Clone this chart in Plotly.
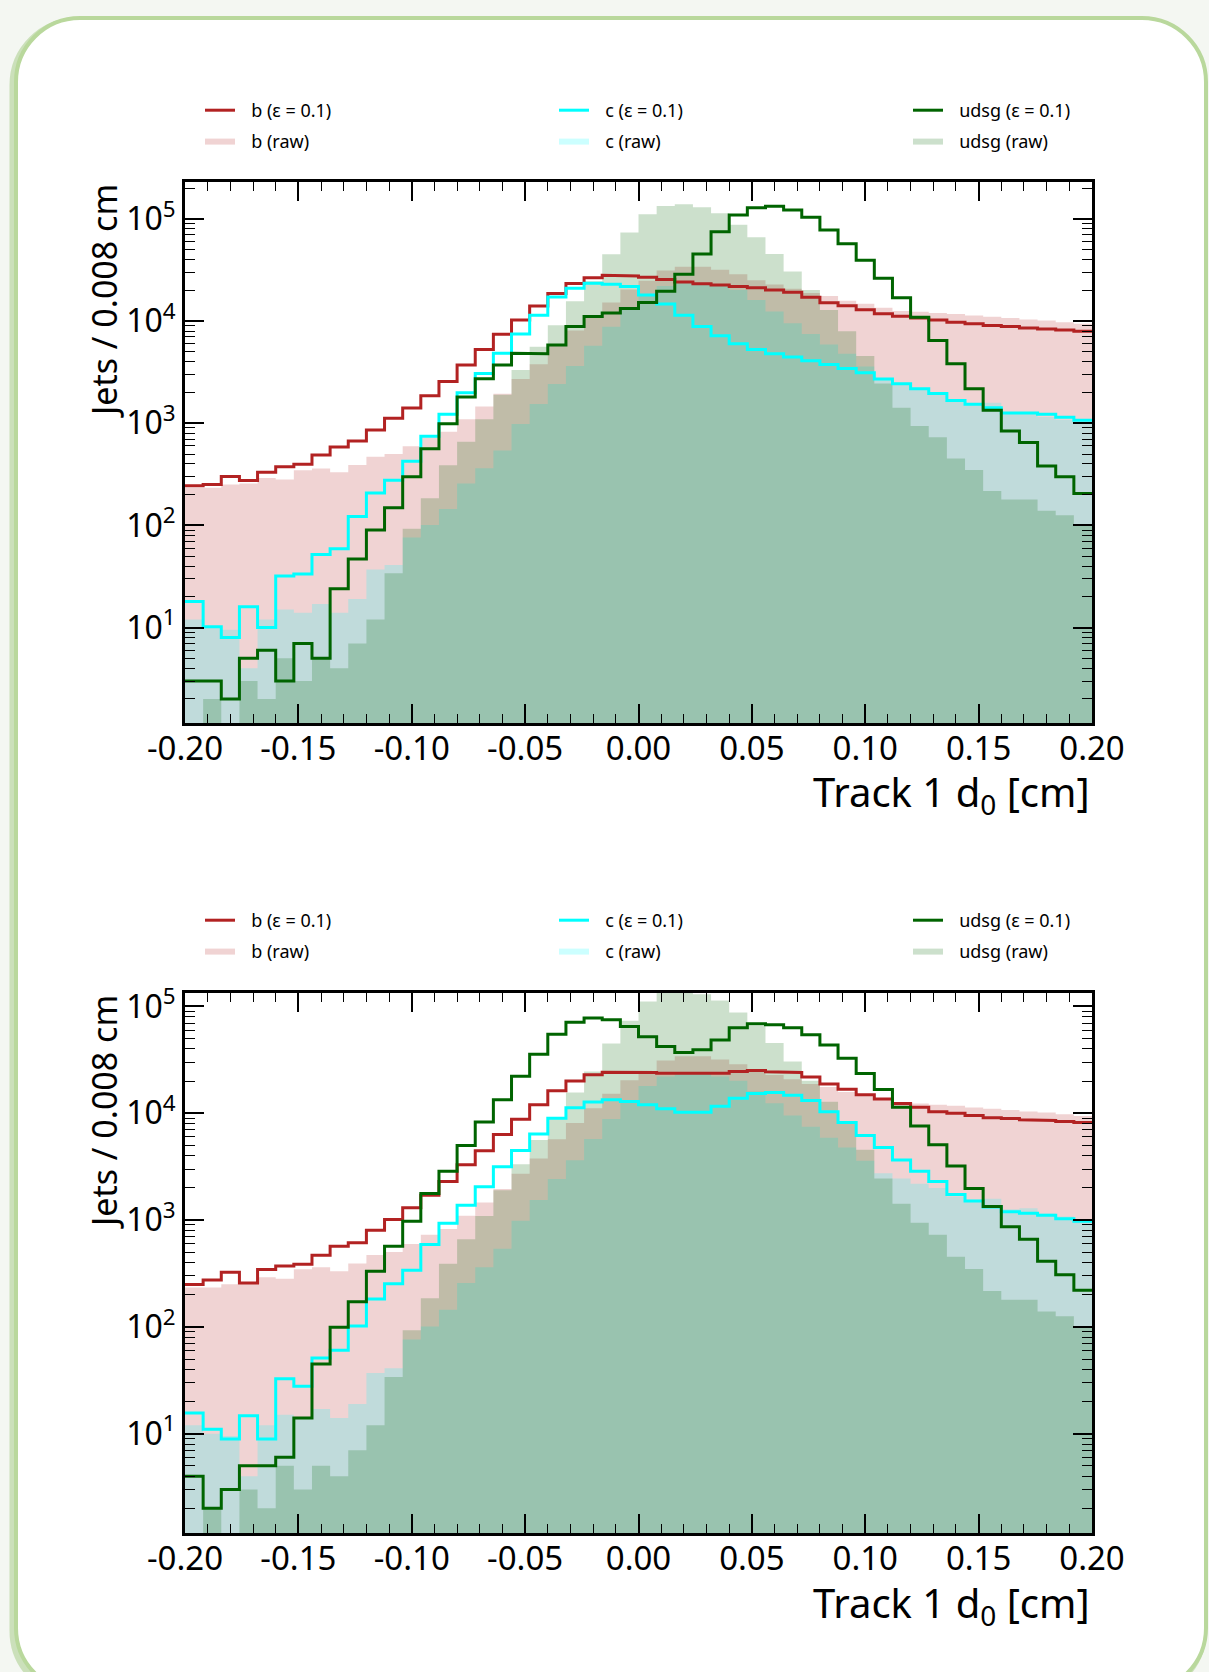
import numpy as np
import plotly.graph_objects as go

W, H = 1209, 1672

# ---------------- data (50 bins of 0.008 cm, -0.2 .. 0.2) ----------------
bin_low, bin_high, n_bins = -0.2, 0.2, 50

# raw distributions (identical in both panels)
b_raw = [234, 234, 251, 257, 292, 282, 347, 361, 331, 391, 470, 501, 596, 728, 826,
         1096, 1462, 1950, 2710, 3776, 5715, 8090, 11170, 15200, 20420, 24830, 31260,
         34120, 34120, 31840, 28710, 25120, 22800, 20800, 18840, 17580, 15850, 14790,
         13490, 12590, 12360, 12020, 11750, 11350, 11040, 10720, 10400, 10160, 9770, 9420]
c_raw = [12, 10, 9.5, 4, 12, 15, 14, 17, 14, 19, 37, 41, 76, 101, 145, 258, 362, 540,
         984, 1545, 2427, 3640, 5754, 8830, 12850, 18030, 22080, 23820, 23820, 22080,
         20180, 16100, 12390, 9530, 7480, 5890, 4790, 3590, 2750, 2455, 2190, 1995, 1660,
         1550, 1585, 1260, 1290, 1150, 1080, 1000]
udsg_raw = [0, 2, 0, 3, 2, 5, 3, 5, 4, 7, 12, 34, 93, 185, 389, 661, 1094, 1900, 3327,
            5623, 9120, 15670, 24550, 45080, 73620, 111400, 134000, 139300, 130000, 113500,
            87900, 66100, 45500, 30600, 20200, 12830, 7940, 4550, 2455, 1422, 942, 729,
            453, 348, 217, 179, 179, 139, 126, 101]

# upper panel, epsilon = 0.1 curves
b_eff_top = [245, 251, 302, 275, 331, 376, 398, 490, 585, 671, 861, 1122, 1413, 1862,
             2570, 3715, 5272, 7447, 10230, 14030, 18660, 23330, 26610, 28180, 27730,
             26920, 25530, 24210, 23280, 22540, 21830, 21180, 20140, 19190, 17140, 15170,
             14130, 12910, 11830, 11170, 10720, 10230, 9750, 9440, 9060, 8850, 8570, 8360,
             8170, 7960]
c_eff_top = [18, 10.2, 8.0, 16, 10, 32, 33.5, 52, 59, 122, 208, 277, 424, 745, 1227,
             1995, 3076, 4842, 7482, 11430, 17180, 20990, 23550, 22910, 21780, 18030,
             14720, 11430, 8870, 7210, 6010, 5280, 4790, 4460, 4090, 3760, 3440, 3120,
             2720, 2440, 2180, 1960, 1667, 1538, 1419, 1259, 1259, 1227, 1143, 1072]
udsg_eff_top = [3, 3, 2, 5, 6, 3, 7, 5, 24, 47, 90, 149, 300, 562, 989, 1811, 2729, 3724,
                4853, 4786, 5834, 8872, 11070, 12020, 13270, 15240, 19630, 28710, 45290,
                74990, 109400, 128800, 133400, 122500, 103700, 77980, 57280, 39450, 26360,
                16980, 10910, 6457, 3828, 2178, 1343, 841, 650, 382, 300, 205]

# lower panel, epsilon = 0.1 curves
b_eff_bot = [249, 274, 324, 257, 344, 372, 386, 469, 568, 612, 802, 1012, 1303, 1706,
             2301, 3296, 4467, 6339, 8810, 12020, 16260, 20090, 22910, 24210, 24210, 24040,
             23710, 23330, 23330, 23710, 24600, 25180, 24430, 24040, 21900, 18790, 16750,
             14930, 13610, 12330, 11400, 10330, 10000, 9550, 9060, 8910, 8710, 8570, 8380,
             8180]
c_eff_bot = [15.6, 11, 8.9, 14.7, 8.9, 32.7, 27.8, 51, 60.5, 102, 182, 253, 339, 590, 935,
             1377, 2056, 3148, 4487, 6383, 8974, 11250, 12760, 13370, 12880, 12020, 11020,
             10230, 10230, 11640, 13800, 15310, 15670, 14720, 13150, 10350, 8180, 6190,
             4775, 3656, 2858, 2301, 1734, 1507, 1324, 1197, 1161, 1109, 1026, 973]
udsg_eff_bot = [4, 2, 3, 5, 5, 6, 14, 45, 99, 172, 331, 568, 973, 1774, 2858, 4989, 8279,
                13370, 22230, 35730, 54950, 71120, 78160, 75160, 64860, 52000, 42270, 37070,
                39260, 48420, 63100, 68710, 67450, 63240, 54330, 43550, 32730, 23600, 16710,
                11400, 7586, 5082, 3206, 1972, 1343, 867, 662, 411, 307, 220]

flavours = ["b", "c", "udsg"]
line_labels = ["b (ε = 0.1)", "c (ε = 0.1)", "udsg (ε = 0.1)"]
raw_labels = ["b (raw)", "c (raw)", "udsg (raw)"]

x_tickvals = [-0.20, -0.15, -0.10, -0.05, 0.00, 0.05, 0.10, 0.15, 0.20]
x_ticktext = ["-0.20", "-0.15", "-0.10", "-0.05", "0.00", "0.05", "0.10", "0.15", "0.20"]
y_tickvals = [1e1, 1e2, 1e3, 1e4, 1e5]
y_ticktext = ["10<sup>1</sup>", "10<sup>2</sup>", "10<sup>3</sup>", "10<sup>4</sup>", "10<sup>5</sup>"]
x_title = "Track 1 d<sub>0</sub> [cm]"
y_title = "Jets / 0.008 cm"

# ---------------- styling ----------------
line_colors = {"b": "#b22222", "c": "#00ffff", "udsg": "#006400"}
fill_colors = {"b": "rgba(178,34,34,0.2)", "c": "rgba(0,255,255,0.2)", "udsg": "rgba(0,100,0,0.2)"}
FONT = "Noto Sans"
PAD = "\u00a0\u00a0\u200a"  # gap between legend key and label

edges = np.linspace(bin_low, bin_high, n_bins + 1)
FLOOR = 1e-2


def step_xy(vals):
    xs, ys = [], []
    for i, v in enumerate(vals):
        xs += [edges[i], edges[i + 1]]
        ys += [v, v]
    return xs, ys


def step_poly(vals):
    xs, ys = step_xy([v if v > 0 else FLOOR for v in vals])
    return [edges[0]] + xs + [edges[-1]], [FLOOR] + ys + [FLOOR]


def px(x):
    return x / W


def py(y):
    return 1 - y / H


fig = go.Figure()

panels = [
    dict(xa="x", ya="y", lines=[b_eff_top, c_eff_top, udsg_eff_top], legends=["legend", "legend2", "legend3"]),
    dict(xa="x2", ya="y2", lines=[b_eff_bot, c_eff_bot, udsg_eff_bot], legends=["legend4", "legend5", "legend6"]),
]
raws = [b_raw, c_raw, udsg_raw]

for p in panels:
    for k, f in enumerate(flavours):
        xs, ys = step_poly(raws[k])
        fig.add_trace(go.Scatter(
            x=xs, y=ys, mode="lines", fill="toself", fillcolor=fill_colors[f],
            line=dict(width=0, color=fill_colors[f]), name=PAD + raw_labels[k],
            xaxis=p["xa"], yaxis=p["ya"], legend=p["legends"][k],
            legendgroup=p["legends"][k] + "raw", legendrank=2, hoverinfo="skip"))
    for k, f in enumerate(flavours):
        xs, ys = step_xy(p["lines"][k])
        fig.add_trace(go.Scatter(
            x=xs, y=ys, mode="lines", line=dict(width=3, color=line_colors[f]),
            name=PAD + line_labels[k], xaxis=p["xa"], yaxis=p["ya"], legend=p["legends"][k],
            legendgroup=p["legends"][k] + "line", legendrank=1))

minor_y = [m * 10 ** e for e in range(0, 6) for m in range(2, 10)]

x_dom = [px(185), px(1092)]
doms_y = [[py(723), py(182)], [py(1533), py(993)]]
y_ranges = [[0.066, 5.362], [0.07, 5.126]]

common = dict(showline=True, linecolor="black", linewidth=3, mirror="allticks",
              ticks="inside", ticklen=19, tickwidth=1.6, tickcolor="black",
              showgrid=False, zeroline=False, automargin=False)

layout = dict(
    width=W, height=H, autosize=False,
    margin=dict(l=0, r=0, t=0, b=0, pad=0, autoexpand=False),
    paper_bgcolor="#f4f7f2", plot_bgcolor="rgba(0,0,0,0)",
    font=dict(family=FONT, color="black"),
    showlegend=True,
)

for i, (ax_x, ax_y, anchor_x, anchor_y) in enumerate([("xaxis", "yaxis", "y", "x"), ("xaxis2", "yaxis2", "y2", "x2")]):
    layout[ax_x] = dict(common, domain=x_dom, anchor=anchor_x, range=[bin_low, bin_high],
                        tickmode="array", tickvals=x_tickvals, ticktext=x_ticktext,
                        ticklabelstandoff=-6,
                        tickfont=dict(family=FONT, size=33, color="black"),
                        minor=dict(ticks="inside", ticklen=9, tickwidth=1.3, tickcolor="black",
                                   tickmode="linear", tick0=0, dtick=0.01, showgrid=False))
    layout[ax_y] = dict(common, domain=doms_y[i], anchor=anchor_y, type="log", range=y_ranges[i],
                        tickmode="array", tickvals=y_tickvals, ticktext=y_ticktext,
                        tickfont=dict(family=FONT, size=32, color="black"),
                        minor=dict(ticks="inside", ticklen=10, tickwidth=1.3, tickcolor="black",
                                   tickmode="array", tickvals=minor_y, showgrid=False))

# legends: three columns per panel
col_x = [200, 554, 908]
leg_top = [92, 902]
for i in range(2):
    for j in range(3):
        name = "legend" if (i == 0 and j == 0) else "legend%d" % (i * 3 + j + 1)
        layout[name] = dict(x=px(col_x[j]), y=py(leg_top[i]), xanchor="left", yanchor="top",
                            orientation="v", bgcolor="rgba(0,0,0,0)", borderwidth=0,
                            font=dict(family=FONT, size=18, color="black"),
                            traceorder="grouped", tracegroupgap=4, itemclick=False)

annotations = []
for i, (ax_top, ax_bot) in enumerate([(182, 723), (993, 1533)]):
    annotations.append(dict(text=x_title, xref="paper", yref="paper", x=px(1092), y=py(ax_bot + 71),
                            xanchor="right", yanchor="middle", showarrow=False,
                            font=dict(family=FONT, size=40, color="black")))
    annotations.append(dict(text=y_title, xref="paper", yref="paper", x=px(104), y=py(ax_top),
                            xanchor="center", yanchor="top", textangle=-90, showarrow=False,
                            font=dict(family=FONT, size=34, color="black")))
layout["annotations"] = annotations

K = 0.5523


def rounded_path(x0, y0, x1, y1, r):
    c = r * (1 - K)
    pts = [
        ("M", [(x0 + r, y0)]),
        ("L", [(x1 - r, y0)]),
        ("C", [(x1 - c, y0), (x1, y0 + c), (x1, y0 + r)]),
        ("L", [(x1, y1 - r)]),
        ("C", [(x1, y1 - c), (x1 - c, y1), (x1 - r, y1)]),
        ("L", [(x0 + r, y1)]),
        ("C", [(x0 + c, y1), (x0, y1 - c), (x0, y1 - r)]),
        ("L", [(x0, y0 + r)]),
        ("C", [(x0, y0 + c), (x0 + c, y0), (x0 + r, y0)]),
    ]
    out = []
    for cmd, ps in pts:
        out.append(cmd + " " + " ".join("%.6f,%.6f" % (px(a), py(b)) for a, b in ps))
    return " ".join(out) + " Z"


layout["shapes"] = [
    dict(type="path", xref="paper", yref="paper", layer="below",
         path=rounded_path(13, 21, 1203, 1695, 64),
         line=dict(color="rgba(170,205,140,0.55)", width=7), fillcolor="rgba(0,0,0,0)"),
    dict(type="path", xref="paper", yref="paper", layer="below",
         path=rounded_path(16, 18, 1206, 1692, 64),
         line=dict(color="#b9d89c", width=4), fillcolor="white"),
]

fig.update_layout(**layout)
fig.write_html(
    "out.html",
    config={"displayModeBar": False},
    post_script="document.body.style.margin='0px';document.body.style.background='#f4f7f2';",
)
